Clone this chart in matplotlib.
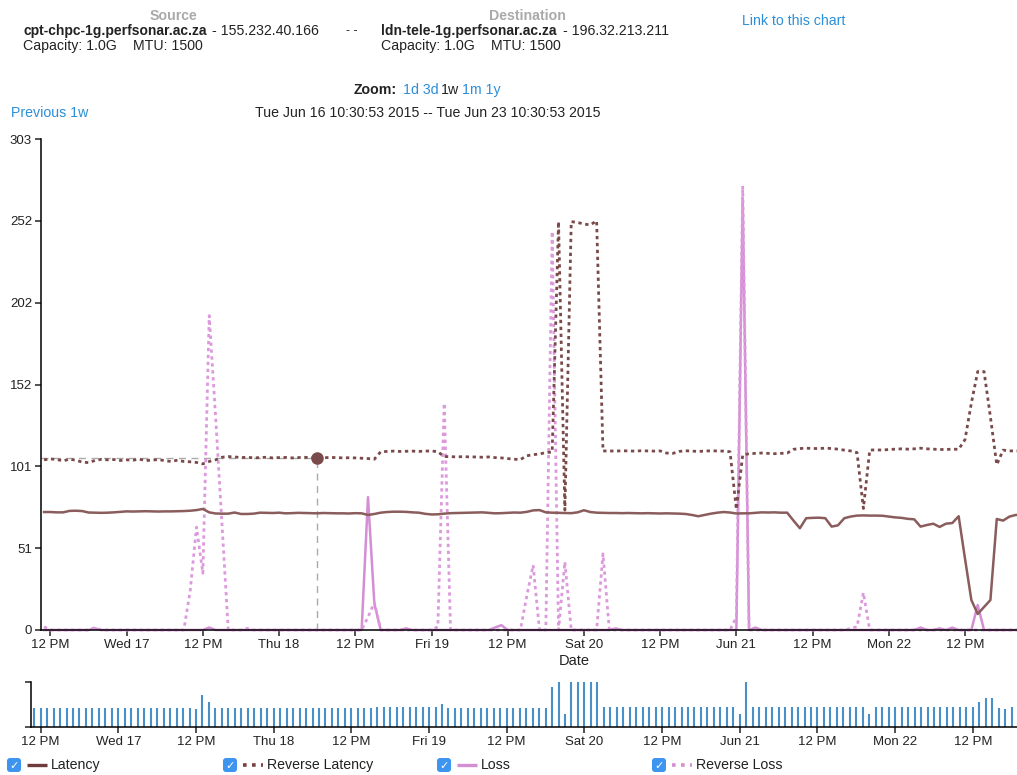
import matplotlib
matplotlib.use("Agg")
import matplotlib.pyplot as plt
from matplotlib.patches import FancyBboxPatch
import pandas as pd
import numpy as np

plt.rcParams['font.family'] = ['Liberation Sans', 'DejaVu Sans']

# hourly samples starting Jun 16 11:00
latency = [
    72.8, 72.8, 72.6, 72.6, 73.5, 73.6, 73.4, 72.5, 72.4, 72.3,
    72.4, 72.6, 72.9, 73.2, 73.1, 73.2, 73.3, 73.2, 73.1, 73.2,
    73.2, 73.3, 73.4, 73.6, 74.0, 74.7, 72.6, 71.9, 71.8, 71.8,
    72.5, 71.6, 71.6, 71.8, 72.4, 72.3, 72.2, 72.4, 72.0, 72.1,
    72.3, 72.2, 72.1, 72.0, 72.2, 72.1, 72.0, 72.0, 71.9, 72.1,
    72.0, 71.0, 71.6, 72.4, 72.8, 73.0, 73.0, 72.9, 72.6, 72.4,
    71.7, 71.3, 71.4, 71.8, 72.1, 72.2, 72.3, 72.4, 72.5, 72.6,
    72.3, 72.0, 72.1, 72.3, 72.5, 72.4, 72.9, 73.8, 74.0, 72.6,
    72.4, 72.3, 72.2, 72.1, 72.6, 73.9, 72.8, 72.4, 72.3, 72.2,
    72.2, 72.1, 72.2, 72.1, 72.0, 72.1, 72.0, 71.9, 72.0, 71.9,
    71.8, 71.6, 71.0, 70.2, 71.0, 71.8, 72.4, 72.8, 72.5, 71.9,
    72.0, 72.0, 72.3, 72.6, 72.5, 72.6, 72.4, 72.4, 67.5, 62.8,
    69.0, 69.2, 69.3, 69.0, 63.8, 64.6, 69.0, 70.0, 70.6, 70.7,
    70.6, 70.6, 70.5, 70.0, 69.5, 69.2, 68.6, 68.3, 63.8, 64.8,
    65.6, 63.6, 65.6, 66.0, 70.2, 44.0, 18.5, 9.9, 14.2, 18.5,
    68.5, 67.5, 70.0, 71.0, 71.2,
]

reverse_latency = [
    105.0, 105.6, 105.2, 104.4, 105.4, 104.8, 103.6, 103.3, 104.6, 105.3,
    105.0, 105.2, 104.6, 105.0, 104.8, 105.4, 104.6, 104.8, 105.2, 104.5,
    104.0, 104.8, 104.0, 103.8, 103.4, 102.5, 104.0, 105.0, 106.6, 107.0,
    106.8, 106.4, 106.6, 106.2, 106.4, 106.6, 106.2, 106.4, 106.5, 106.2,
    106.4, 106.6, 106.2, 106.2, 106.3, 106.5, 106.4, 106.2, 106.3, 106.2,
    106.0, 105.8, 105.4, 110.0, 110.2, 110.4, 110.2, 110.3, 110.4, 110.2,
    110.4, 110.5, 110.0, 107.0, 107.0, 106.8, 107.0, 106.8, 106.8, 106.6,
    106.8, 106.4, 106.2, 105.8, 105.4, 105.2, 107.5, 108.2, 108.6, 109.5,
    109.8, 252.0, 74.0, 252.0, 251.5, 250.5, 250.0, 252.5, 110.5, 110.5,
    110.4, 110.6, 110.5, 110.4, 110.6, 110.5, 110.4, 110.5, 109.2, 109.0,
    110.2, 110.6, 110.4, 110.2, 110.4, 110.6, 110.5, 110.4, 110.0, 74.5,
    108.0, 108.8, 109.0, 109.2, 109.0, 108.8, 109.0, 109.2, 111.5, 112.0,
    112.2, 112.0, 112.0, 112.2, 112.0, 111.6, 111.0, 110.5, 109.5, 75.0,
    111.0, 111.2, 111.0, 111.4, 111.6, 111.8, 111.6, 111.8, 112.2, 111.8,
    111.6, 111.4, 111.4, 111.6, 111.5, 117.5, 140.0, 159.5, 159.5, 131.5,
    102.0, 111.0, 110.5, 110.6, 110.5,
]

loss = [
    0, 0, 0, 0, 0, 0, 0, 0, 1, 0,
    0, 0, 0, 0, 0, 0, 0, 0, 0, 0,
    0, 0, 0, 0, 0, 0, 1.5, 0, 0, 0,
    0, 0, 0, 0, 0, 0, 0, 0, 0, 0,
    0, 0, 0, 0, 0, 0, 0, 0, 0, 0,
    0, 82, 16.4, 0, 0, 0, 0, 1, 0, 0,
    0, 0, 0, 0, 0, 0, 0, 0, 0, 0,
    0, 1.5, 3, 0, 0, 0, 0, 0, 0, 0,
    0, 0, 0, 0, 0, 0, 0, 0, 0, 0,
    1, 0, 0, 0, 0, 0, 0, 0, 0, 0,
    0, 0, 0, 0, 0, 0, 0, 0, 0, 0,
    266, 0, 1.5, 0, 0, 0, 0, 0, 0, 0,
    0, 0, 0, 0, 0, 0, 0, 0, 0, 0,
    0, 0, 0, 0, 0, 0, 0, 0, 1.5, 0,
    0, 1, 0, 1.5, 0, 0, 0, 15.4, 0, 0,
    0, 0, 0, 0, 0,
]

reverse_loss = [
    2, 0, 0, 0, 0, 0, 0, 0, 1.5, 0,
    0, 0, 0, 0, 0, 0, 0, 0, 0, 0,
    0, 0, 0, 24, 63.5, 35, 194, 132, 66, 0,
    0, 0, 1, 0, 0, 0, 0, 0, 0, 0,
    0, 0, 0, 0, 0, 0, 0, 0, 0, 0,
    0, 8, 17, 0, 0, 0, 0, 0, 0, 0,
    0, 0, 2, 140, 0, 0, 0, 0, 0, 0,
    0, 0, 0, 0, 0, 0, 21, 40, 0, 0,
    246, 0, 42, 0, 0, 0, 0, 0, 47, 0,
    0, 0, 0, 0, 0, 0, 0, 0, 0, 0,
    0, 0, 0, 0, 0, 0, 0, 0, 0, 8,
    274, 0, 0, 0, 0, 0, 0, 0, 0, 0,
    0, 0, 0, 0, 0, 0, 0, 1, 2, 23,
    0, 0, 0, 0, 0, 0, 0, 0, 0, 0,
    0, 0, 0, 0, 0, 0, 0, 0, 0, 0,
    0, 0, 0, 0, 0,
]

# overview bars (relative height, 100 = top of brush axis)
overview = [
    41, 41, 41, 41, 41, 41, 41, 41, 41, 41,
    41, 41, 41, 41, 41, 41, 41, 41, 41, 41,
    41, 41, 41, 41, 41, 39, 70, 56, 41, 41,
    41, 41, 41, 41, 41, 41, 41, 41, 41, 41,
    41, 41, 41, 41, 41, 41, 41, 41, 41, 41,
    41, 41, 41, 44, 44, 44, 44, 44, 44, 44,
    44, 44, 44, 50, 41, 41, 41, 41, 41, 41,
    41, 41, 41, 41, 41, 41, 41, 41, 41, 41,
    89, 100, 28, 100, 100, 100, 100, 100, 43, 43,
    43, 43, 43, 43, 43, 43, 43, 43, 43, 43,
    43, 43, 43, 43, 43, 43, 43, 43, 43, 28,
    100, 43, 43, 43, 43, 43, 43, 43, 43, 43,
    43, 43, 43, 43, 43, 43, 43, 43, 43, 28,
    43, 43, 43, 43, 43, 43, 43, 43, 43, 43,
    43, 43, 43, 43, 43, 43, 56, 63, 63, 41,
    39, 44, 43, 43, 43,
]

hover_idx = 43

start = pd.Timestamp("2015-06-16 10:30:53").to_pydatetime()
end = pd.Timestamp("2015-06-23 10:30:53").to_pydatetime()
times = pd.date_range("2015-06-16 11:00", periods=len(latency), freq="h").to_pydatetime()

tick_times = pd.to_datetime([
    "2015-06-16 12:00", "2015-06-17 00:00", "2015-06-17 12:00", "2015-06-18 00:00",
    "2015-06-18 12:00", "2015-06-19 00:00", "2015-06-19 12:00", "2015-06-20 00:00",
    "2015-06-20 12:00", "2015-06-21 00:00", "2015-06-21 12:00", "2015-06-22 00:00",
    "2015-06-22 12:00"]).to_pydatetime()
tick_labels = ["12 PM", "Wed 17", "12 PM", "Thu 18", "12 PM", "Fri 19", "12 PM",
               "Sat 20", "12 PM", "Jun 21", "12 PM", "Mon 22", "12 PM"]
y_ticks = [0, 50.5, 101, 151.5, 202, 252.5, 303]
y_labels = ["0", "51", "101", "152", "202", "252", "303"]

c_lat = '#8a5c5c'
c_rlat = '#7a4a4a'
c_loss = '#d48ed4'
c_rloss = '#dc9adc'
c_blue = '#2a8fd8'
c_text = '#222222'

W, H = 1017, 775
fig = plt.figure(figsize=(W / 100, H / 100), dpi=100)

# main chart (runs past the right edge like the screenshot)
ax = fig.add_axes([41 / W, (H - 630) / H, 1067 / W, 491 / H])
ax.plot(times, latency, color=c_lat, lw=1.8, clip_on=False, zorder=3)
ax.plot(times, reverse_latency, color=c_rlat, lw=2.0, ls=(0, (1.2, 1.3)),
        clip_on=False, zorder=3)
ax.plot(times, loss, color=c_loss, lw=1.8, clip_on=False, zorder=2)
ax.plot(times, reverse_loss, color=c_rloss, lw=2.0, ls=(0, (1.2, 1.3)),
        clip_on=False, zorder=2)

hv = reverse_latency[hover_idx]
ax.plot([start, times[hover_idx]], [hv, hv], color='#aaaaaa', lw=1.0,
        ls=(0, (5, 4)), zorder=1)
ax.plot([times[hover_idx], times[hover_idx]], [0, hv], color='#aaaaaa', lw=1.0,
        ls=(0, (5, 4)), zorder=1)
ax.plot([times[hover_idx]], [hv], 'o', color=c_rlat, ms=8, zorder=4)

ax.set_xlim(start, end)
ax.set_ylim(0, 303)
ax.set_xticks(tick_times)
ax.set_xticklabels(tick_labels)
ax.set_yticks(y_ticks)
ax.set_yticklabels(y_labels)
for s in ['top', 'right']:
    ax.spines[s].set_visible(False)
for s in ['left', 'bottom']:
    ax.spines[s].set_linewidth(1.1)
ax.tick_params(axis='both', length=4.5, width=1.1, labelsize=9.5, colors=c_text, pad=2)
ax.set_xlabel('Date', fontsize=10.5, labelpad=2, color=c_text)

# overview / brush
ax2 = fig.add_axes([31 / W, (H - 726.7) / H, 1087.6 / W, 45 / H])
ax2.vlines(times, 0, overview, color='#4a90c8', lw=1.5)
ax2.set_xlim(start, end)
ax2.set_ylim(0, 100)
ax2.set_yticks([0, 100])
ax2.set_yticklabels([])
ax2.set_xticks(tick_times)
ax2.set_xticklabels(tick_labels)
for s in ['top', 'right']:
    ax2.spines[s].set_visible(False)
for s in ['left', 'bottom']:
    ax2.spines[s].set_linewidth(1.1)
ax2.tick_params(axis='both', length=4.5, width=1.1, labelsize=9.5, colors=c_text, pad=2)

# overlay in pixel coordinates for header and legend
ov = fig.add_axes([0, 0, 1, 1], zorder=5)
ov.set_xlim(0, W)
ov.set_ylim(H, 0)
ov.axis('off')
ov.patch.set_alpha(0)

fs = 10.2
ov.text(173, 16, "Source", ha='center', va='center', fontsize=fs, color='#aaaaaa', weight='bold')
ov.text(527, 16, "Destination", ha='center', va='center', fontsize=fs, color='#aaaaaa', weight='bold')
ov.text(23, 31, "cpt-chpc-1g.perfsonar.ac.za", va='center', fontsize=10, weight='bold', color=c_text)
ov.text(212, 31, "- 155.232.40.166", va='center', fontsize=fs, color=c_text)
ov.text(346, 31, "- -", va='center', fontsize=9, color=c_text)
ov.text(381, 31, "ldn-tele-1g.perfsonar.ac.za", va='center', fontsize=10, weight='bold', color=c_text)
ov.text(563, 31, "- 196.32.213.211", va='center', fontsize=fs, color=c_text)
for x0 in (23, 381):
    ov.text(x0, 46, "Capacity: 1.0G", va='center', fontsize=fs, color=c_text)
    ov.text(x0 + 110, 46, "MTU: 1500", va='center', fontsize=fs, color=c_text)
ov.text(742, 21, "Link to this chart", va='center', fontsize=fs, color=c_blue)

ov.text(354, 90, "Zoom:", va='center', fontsize=fs, weight='bold', color=c_text)
ov.text(403, 90, "1d 3d", va='center', fontsize=fs, color=c_blue)
ov.text(441, 90, "1w", va='center', fontsize=fs, color=c_text)
ov.text(462, 90, "1m 1y", va='center', fontsize=fs, color=c_blue)
ov.text(11, 113, "Previous 1w", va='center', fontsize=fs, color=c_blue)
ov.text(255, 113, "Tue Jun 16 10:30:53 2015 -- Tue Jun 23 10:30:53 2015",
        va='center', fontsize=fs, color=c_text)

legend_items = [
    (7, "Latency", '#6e3c3c', '-'),
    (223, "Reverse Latency", '#7a3f3f', ':'),
    (437, "Loss", '#d48ed4', '-'),
    (652, "Reverse Loss", '#d48ed4', ':'),
]
ly = 765
for x0, name, col, st in legend_items:
    box = FancyBboxPatch((x0, ly - 7), 14, 14, boxstyle='round,pad=0,rounding_size=3',
                         fc='#3d95f0', ec='none')
    ov.add_patch(box)
    ov.text(x0 + 7, ly + 0.5, "\u2713", ha='center', va='center', fontsize=8,
            color='white', weight='bold', family='DejaVu Sans')
    if st == '-':
        ov.plot([x0 + 20, x0 + 40], [ly, ly], color=col, lw=2.4, solid_capstyle='butt')
    else:
        ov.plot([x0 + 20, x0 + 40], [ly, ly], color=col, lw=2.6, ls=(0, (1, 1.5)))
    ov.text(x0 + 44, ly, name, va='center', fontsize=fs, color=c_text)

fig.savefig("out.png", dpi=100)
